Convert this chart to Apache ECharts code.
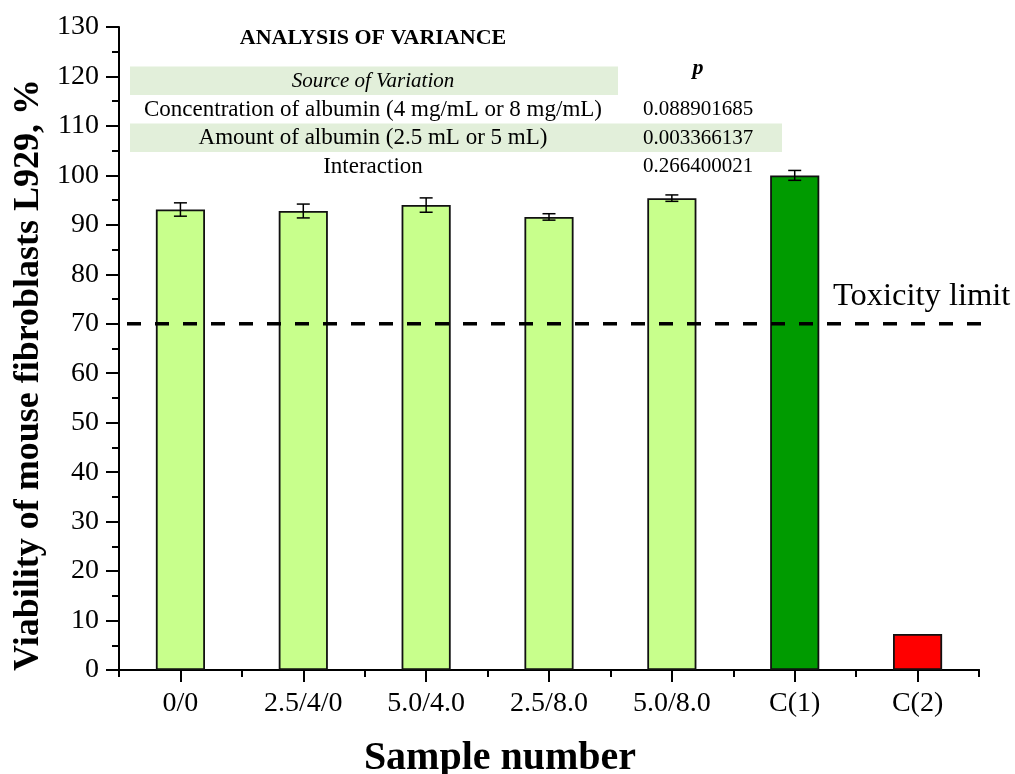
<!DOCTYPE html>
<html><head><meta charset="utf-8">
<script src="https://cdn.jsdelivr.net/npm/echarts@6/dist/echarts.min.js"></script>
<style>html,body{margin:0;padding:0;background:#fff}#c{width:1015px;height:774px}</style>
</head><body><div id="c"></div>
<script>
const categories = ['0/0', '2.5/4/0', '5.0/4.0', '2.5/8.0', '5.0/8.0', 'C(1)', 'C(2)'];
const viability = [93.1, 92.8, 94.0, 91.6, 95.4, 100.0, 7.3];
const errors = [1.35, 1.4, 1.45, 0.65, 0.65, 1.0, 0];
const barColors = ['#c8ff8c', '#c8ff8c', '#c8ff8c', '#c8ff8c', '#c8ff8c', '#009b00', '#ff0000'];
const toxicityLimit = 70;
const toxicityLabel = 'Toxicity limit';
const anovaTitle = 'ANALYSIS OF VARIANCE';
const anovaHeader = ['Source of Variation', 'p'];
const anovaSources = ['Concentration of albumin (4 mg/mL or 8 mg/mL)', 'Amount of albumin (2.5 mL or 5 mL)', 'Interaction'];
const anovaP = ['0.088901685', '0.003366137', '0.266400021'];

const FONT = '"Liberation Serif", "Times New Roman", serif';
const chart = echarts.init(document.getElementById('c'), null, {renderer: 'canvas'});

const band = '#e2efda';
const graphics = [
  {type: 'rect', shape: {x: 130, y: 66.5, width: 488, height: 28.5}, style: {fill: band}, z: 0},
  {type: 'rect', shape: {x: 130, y: 123.5, width: 652, height: 28.5}, style: {fill: band}, z: 0},
  {type: 'text', x: 373, y: 38, style: {text: anovaTitle, font: 'bold 22px ' + FONT, fill: '#000', align: 'center', verticalAlign: 'middle'}},
  {type: 'text', x: 373, y: 81, style: {text: anovaHeader[0], font: 'italic 21px ' + FONT, fill: '#000', align: 'center', verticalAlign: 'middle'}},
  {type: 'text', x: 698, y: 68, style: {text: anovaHeader[1], font: 'italic bold 22px ' + FONT, fill: '#000', align: 'center', verticalAlign: 'middle'}},
  {type: 'text', x: 833, y: 296, style: {text: toxicityLabel, font: '32.5px ' + FONT, fill: '#000', align: 'left', verticalAlign: 'middle'}}
];
anovaSources.forEach((s, i) => {
  const y = 109.5 + i * 28.5;
  graphics.push({type: 'text', x: 373, y: y, style: {text: s, font: '23px ' + FONT, fill: '#000', align: 'center', verticalAlign: 'middle'}});
  graphics.push({type: 'text', x: 698, y: y, style: {text: anovaP[i], font: '21px ' + FONT, fill: '#000', align: 'center', verticalAlign: 'middle'}});
});

const axisColor = '#000';
const option = {
  animation: false,
  backgroundColor: '#fff',
  textStyle: {fontFamily: FONT, color: '#000'},
  grid: [
    {left: 119, right: 36, top: 27, bottom: 104, outerBoundsMode: 'none', containLabel: false},
    {left: 127, right: 23, top: 27, bottom: 104, outerBoundsMode: 'none', containLabel: false}
  ],
  xAxis: [
    {
      type: 'category', data: categories, gridIndex: 0, position: 'bottom',
      axisLine: {show: true, lineStyle: {color: axisColor, width: 2}},
      axisTick: {show: true, alignWithLabel: true, length: 12, lineStyle: {color: axisColor, width: 2}},
      axisLabel: {fontSize: 28, color: '#000', margin: 20, fontFamily: FONT},
      name: 'Sample number', nameLocation: 'middle', nameGap: 69,
      nameTextStyle: {fontSize: 40, fontWeight: 'bold', color: '#000', fontFamily: FONT, padding: [0, 98, 0, 0]}
    },
    {
      type: 'category', data: categories, gridIndex: 0, position: 'bottom',
      axisLine: {show: true, lineStyle: {color: axisColor, width: 2}},
      axisTick: {show: true, length: 7, lineStyle: {color: axisColor, width: 2}},
      axisLabel: {show: false}
    },
    {type: 'value', gridIndex: 1, min: 0, max: 1, show: false}
  ],
  yAxis: [
    {
      type: 'value', gridIndex: 0, min: 0, max: 130, interval: 10,
      axisLine: {show: true, lineStyle: {color: axisColor, width: 2}},
      axisTick: {show: true, length: 13, lineStyle: {color: axisColor, width: 2}},
      minorTick: {show: true, splitNumber: 2, length: 7, lineStyle: {color: axisColor, width: 2}},
      splitLine: {show: false},
      axisLabel: {fontSize: 28, color: '#000', margin: 20, fontFamily: FONT},
      name: 'Viability of mouse fibroblasts L929, %', nameLocation: 'middle', nameGap: 72,
      nameMoveOverlap: false,
      nameTextStyle: {fontSize: 36, fontWeight: 'bold', color: '#000', fontFamily: FONT, padding: [0, 53, 0, 0]}
    },
    {type: 'value', gridIndex: 1, min: 0, max: 130, show: false}
  ],
  graphic: graphics,
  series: [
    {
      type: 'bar', xAxisIndex: 0, yAxisIndex: 0, barWidth: '40%',
      data: viability.map((v, i) => ({value: v, itemStyle: {color: barColors[i]}})),
      itemStyle: {borderColor: '#111', borderWidth: 1.8},
      z: 2
    },
    {
      type: 'custom', xAxisIndex: 0, yAxisIndex: 0, z: 3,
      data: categories.map((c, i) => [i, viability[i], errors[i]]),
      renderItem: function (params, api) {
        const e = api.value(2);
        if (!e) return null;
        const x = api.value(0), y = api.value(1);
        const top = api.coord([x, y + e]);
        const bot = api.coord([x, y - e]);
        const hw = 6.5;
        const st = {stroke: '#000', lineWidth: 1.5};
        return {type: 'group', children: [
          {type: 'line', shape: {x1: top[0], y1: top[1], x2: bot[0], y2: bot[1]}, style: st},
          {type: 'line', shape: {x1: top[0] - hw, y1: top[1], x2: top[0] + hw, y2: top[1]}, style: st},
          {type: 'line', shape: {x1: bot[0] - hw, y1: bot[1], x2: bot[0] + hw, y2: bot[1]}, style: st}
        ]};
      }
    },
    {
      type: 'line', xAxisIndex: 2, yAxisIndex: 1, z: 5, symbol: 'none', silent: true,
      data: [[0, toxicityLimit], [1, toxicityLimit]],
      lineStyle: {color: '#000', width: 3.5, type: [14, 14], cap: 'butt'}
    }
  ]
};
chart.setOption(option);
</script>
</body></html>
